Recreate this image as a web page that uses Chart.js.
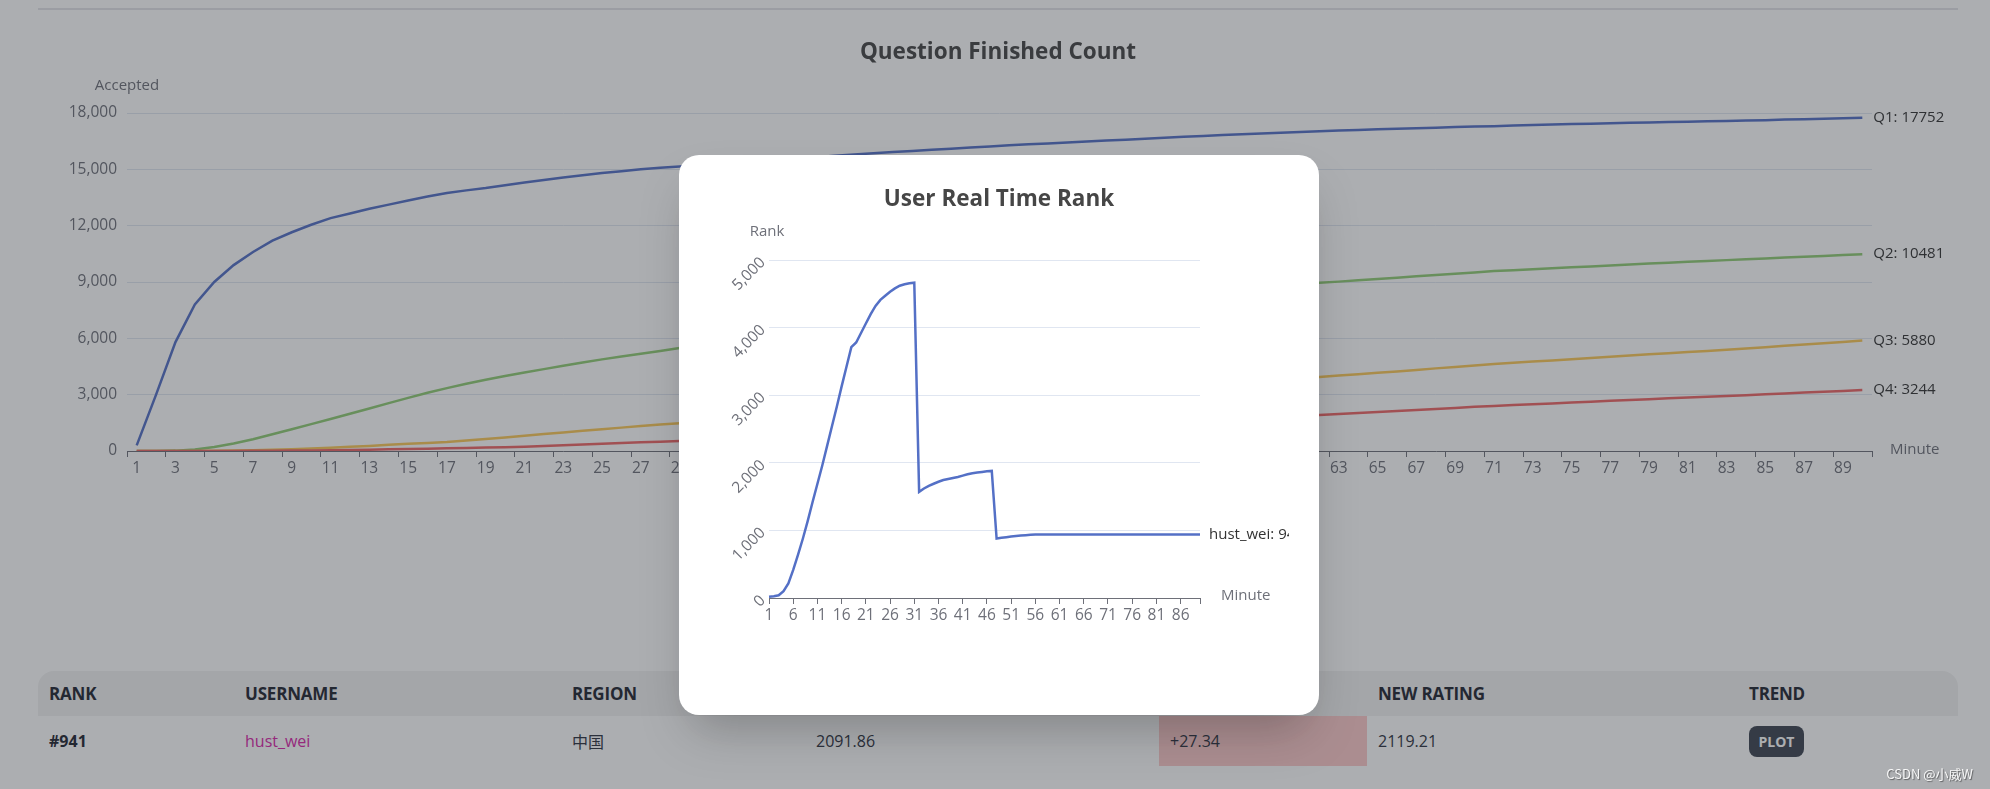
<!DOCTYPE html>
<html><head><meta charset="utf-8">
<script src="https://cdn.jsdelivr.net/npm/chart.js@4.4.0/dist/chart.umd.min.js"></script>
<style>
html,body{margin:0;padding:0;}
body{width:1990px;height:789px;position:relative;overflow:hidden;background:#fff;font-family:'Open Sans','Noto Sans CJK SC',sans-serif;}
#sep{position:absolute;left:38px;top:8px;width:1920px;height:2px;background:#e3e4e8;}
#bgWrap{position:absolute;left:0;top:0;width:1990px;height:500px;}
#tbl{position:absolute;left:38px;top:671px;width:1920px;}
.hdr{height:45px;background:#f2f2f2;border-radius:16px 16px 0 0;position:relative;}
.row{height:50px;position:relative;}
.cell{position:absolute;top:0;height:100%;display:flex;align-items:center;white-space:nowrap;}
.hdr .cell{font-weight:700;font-size:17px;color:#1f2430;letter-spacing:-0.2px;}
.row .cell{font-size:16px;color:#2d3240;}
.delta{background:#fecaca;}
.plot{position:absolute;left:1711px;top:10px;width:55px;height:31px;border-radius:8px;background:#3d4451;color:#fff;font-weight:700;font-size:14px;display:flex;align-items:center;justify-content:center;}
#overlay{position:absolute;left:0;top:0;width:1990px;height:789px;background:rgba(42,46,55,0.39);}
#modal{position:absolute;left:679px;top:155px;width:640px;height:560px;background:#fff;border-radius:20px;overflow:hidden;box-shadow:0 25px 50px -12px rgba(0,0,0,0.25);}
#mWrap{position:absolute;left:30px;top:30px;width:580px;height:500px;}
#wm{position:absolute;right:17px;top:764px;font-size:13px;color:rgba(255,255,255,0.92);text-shadow:1px 1px 1px rgba(0,0,0,0.45);font-family:'Noto Sans CJK SC',sans-serif;}
</style>
</head><body>
<div id="sep"></div>
<div id="bgWrap"><canvas id="bg" width="1990" height="500"></canvas></div>
<div id="tbl">
  <div class="hdr">
    <div class="cell" style="left:11px">RANK</div>
    <div class="cell" style="left:207px">USERNAME</div>
    <div class="cell" style="left:534px">REGION</div>
    <div class="cell" style="left:1340px">NEW RATING</div>
    <div class="cell" style="left:1711px">TREND</div>
  </div>
  <div class="row">
    <div class="cell" style="left:11px;font-weight:700;color:#1f2430">#941</div>
    <div class="cell" style="left:207px;color:#d926a9">hust_wei</div>
    <div class="cell" style="left:534px">中国</div>
    <div class="cell" style="left:778px">2091.86</div>
    <div class="cell delta" style="left:1121px;width:208px;padding-left:11px;box-sizing:border-box">+27.34</div>
    <div class="cell" style="left:1340px">2119.21</div>
    <div class="plot">PLOT</div>
  </div>
</div>
<div id="overlay"></div>
<div id="modal"><div id="mWrap"><canvas id="rank" width="580" height="500"></canvas></div></div>
<div id="wm">CSDN @小威W</div>
<script>
const minutes = [1,2,3,4,5,6,7,8,9,10,11,12,13,14,15,16,17,18,19,20,21,22,23,24,25,26,27,28,29,30,31,32,33,34,35,36,37,38,39,40,41,42,43,44,45,46,47,48,49,50,51,52,53,54,55,56,57,58,59,60,61,62,63,64,65,66,67,68,69,70,71,72,73,74,75,76,77,78,79,80,81,82,83,84,85,86,87,88,89,90];
const seriesNames = ['Q1','Q2','Q3','Q4'];
const q1 = [300,3000,5800,7800,9000,9900,10600,11200,11650,12050,12400,12650,12900,13120,13340,13550,13740,13880,14000,14150,14300,14430,14560,14680,14800,14900,15000,15080,15150,15230,15300,15370,15440,15510,15580,15650,15720,15790,15860,15920,15980,16040,16100,16160,16220,16280,16330,16380,16430,16480,16530,16580,16630,16680,16730,16780,16830,16870,16910,16950,16990,17030,17070,17100,17130,17160,17190,17220,17250,17280,17300,17330,17360,17390,17410,17430,17450,17480,17500,17520,17540,17560,17580,17600,17620,17650,17670,17690,17720,17752];
const q2 = [0,0,20,80,210,400,630,890,1160,1430,1700,1980,2260,2550,2830,3100,3350,3580,3790,3990,4180,4360,4540,4710,4880,5030,5180,5330,5480,5600,5730,5860,5990,6115,6240,6365,6485,6605,6725,6840,6955,7070,7180,7290,7400,7510,7615,7720,7820,7920,8020,8115,8210,8305,8400,8490,8580,8670,8750,8830,8900,8960,9020,9090,9160,9230,9300,9370,9440,9510,9580,9630,9680,9730,9780,9830,9880,9930,9980,10030,10075,10120,10165,10210,10255,10300,10345,10390,10435,10481];
const q3 = [0,0,0,5,10,20,35,60,90,130,170,220,270,330,380,430,480,560,640,720,810,900,990,1075,1160,1245,1325,1405,1480,1560,1635,1710,1785,1860,1935,2010,2085,2160,2235,2310,2385,2460,2535,2610,2685,2755,2825,2895,2965,3035,3105,3180,3255,3330,3405,3480,3555,3630,3710,3790,3865,3940,4015,4090,4165,4240,4320,4400,4475,4550,4630,4695,4760,4825,4890,4955,5020,5085,5150,5210,5270,5330,5395,5460,5530,5600,5670,5740,5810,5880];
const q4 = [0,0,0,0,5,5,10,15,20,30,40,55,70,90,110,125,140,160,185,205,230,265,300,340,380,420,460,497,534,572,612,652,692,733,774,815,856,897,938,980,1022,1064,1106,1148,1190,1232,1274,1316,1358,1400,1442,1484,1526,1568,1610,1652,1694,1739,1784,1829,1874,1920,1970,2020,2075,2130,2185,2240,2295,2350,2400,2445,2490,2535,2580,2625,2670,2715,2760,2805,2850,2890,2930,2975,3020,3065,3110,3155,3200,3244];
const userName = 'hust_wei';
const userRank = [20,25,40,100,215,415,640,880,1140,1420,1690,1960,2250,2540,2830,3130,3420,3710,3780,3920,4060,4200,4320,4410,4470,4530,4580,4620,4640,4655,4665,1570,1620,1660,1690,1720,1745,1760,1775,1790,1810,1830,1845,1855,1865,1875,1880,880,890,900,910,918,925,930,935,938,941,941,941,941,941,941,941,941,941,941,941,941,941,941,941,941,941,941,941,941,941,941,941,941,941,941,941,941,941,941,941,941,941,941];

const FAM = "'Open Sans','Noto Sans CJK SC',sans-serif";
Chart.defaults.font.family = FAM;
const AX = '#6E7079';
const GRID = '#E0E6F1';
const FS = 15.5;

const bgText = {
  id: 'bgText',
  afterDraw(chart) {
    const ctx = chart.ctx, a = chart.chartArea;
    ctx.save();
    ctx.textBaseline = 'middle';
    ctx.textAlign = 'center';
    ctx.fillStyle = '#464646';
    ctx.font = "bold 22.5px " + FAM;
    ctx.fillText('Question Finished Count', 998, 53);
    ctx.font = "15px " + FAM;
    ctx.fillStyle = AX;
    ctx.fillText('Accepted', a.left, 86);
    ctx.textAlign = 'left';
    ctx.fillText('Minute', a.right + 18, a.bottom - 1);
    ctx.fillStyle = '#333';
    chart.data.datasets.forEach((ds, i) => {
      const meta = chart.getDatasetMeta(i);
      const p = meta.data[meta.data.length - 1];
      ctx.fillText(ds.label + ': ' + ds.data[ds.data.length - 1], p.x + 11, p.y);
    });
    ctx.restore();
  }
};

const colors = ['#5470c6', '#91cc75', '#fac858', '#ee6666'];
const seriesData = [q1, q2, q3, q4];

new Chart(document.getElementById('bg'), {
  type: 'line',
  data: {
    labels: minutes,
    datasets: seriesNames.map((n, i) => ({
      label: n, data: seriesData[i], borderColor: colors[i], backgroundColor: colors[i],
      borderWidth: 2.5, pointRadius: 0, tension: 0, order: 3 - i
    }))
  },
  options: {
    responsive: false, animation: false,
    layout: { padding: { left: 0, top: 113, right: 118, bottom: 0 } },
    plugins: { legend: { display: false }, title: { display: false }, tooltip: { enabled: false } },
    scales: {
      x: {
        offset: true,
        grid: { offset: true, drawOnChartArea: false, drawTicks: true, tickLength: 6,
          tickColor: c => (c.index === undefined || c.index % 2 === 0) ? AX : 'rgba(0,0,0,0)' },
        border: { display: true, color: AX, width: 1 },
        ticks: { autoSkip: false, maxRotation: 0, minRotation: 0, padding: 2, color: AX, font: { size: FS },
          callback: (v, i) => i % 2 === 0 ? String(minutes[i]) : '' },
        afterFit: s => { s.height = 49; }
      },
      y: {
        min: 0, max: 18000,
        ticks: { stepSize: 3000, padding: 10, color: AX, font: { size: FS } },
        grid: { color: GRID, drawTicks: false, lineWidth: 1 },
        border: { display: false },
        afterFit: s => { s.width = 127; }
      }
    }
  },
  plugins: [bgText]
});

const rankText = {
  id: 'rankText',
  afterDraw(chart) {
    const ctx = chart.ctx, a = chart.chartArea;
    ctx.save();
    ctx.textBaseline = 'middle';
    ctx.textAlign = 'center';
    ctx.fillStyle = '#464646';
    ctx.font = "bold 22.5px " + FAM;
    ctx.fillText('User Real Time Rank', 290, 15);
    ctx.font = "15px " + FAM;
    ctx.fillStyle = AX;
    ctx.fillText('Rank', a.left - 2, 47);
    ctx.textAlign = 'left';
    ctx.fillText('Minute', a.right + 21, a.bottom - 2);
    ctx.fillStyle = '#333';
    const meta = chart.getDatasetMeta(0);
    const p = meta.data[meta.data.length - 1];
    const ds = chart.data.datasets[0];
    ctx.fillText(ds.label + ': ' + ds.data[ds.data.length - 1], p.x + 9, p.y);
    ctx.restore();
  }
};

new Chart(document.getElementById('rank'), {
  type: 'line',
  data: {
    labels: minutes,
    datasets: [{ label: userName, data: userRank, borderColor: '#5470c6', backgroundColor: '#5470c6',
      borderWidth: 2.5, pointRadius: 0, tension: 0 }]
  },
  options: {
    responsive: false, animation: false,
    layout: { padding: { left: 0, top: 75, right: 89, bottom: 0 } },
    plugins: { legend: { display: false }, title: { display: false }, tooltip: { enabled: false } },
    scales: {
      x: {
        offset: false,
        grid: { offset: false, drawOnChartArea: false, drawTicks: true, tickLength: 6,
          tickColor: c => (c.index === undefined || c.index % 5 === 0 || c.index === minutes.length - 1) ? AX : 'rgba(0,0,0,0)' },
        border: { display: true, color: AX, width: 1 },
        ticks: { autoSkip: false, maxRotation: 0, minRotation: 0, padding: 2, color: AX, font: { size: FS },
          callback: (v, i) => i % 5 === 0 ? String(minutes[i]) : '' },
        afterFit: s => { s.height = 87; }
      },
      y: {
        min: 0, max: 5000,
        ticks: { stepSize: 1000, padding: 6, color: AX, font: { size: FS }, minRotation: 45, maxRotation: 45 },
        grid: { color: GRID, drawTicks: false, lineWidth: 1 },
        border: { display: false },
        afterFit: s => { s.width = 60; }
      }
    }
  },
  plugins: [rankText]
});
</script>
</body></html>
